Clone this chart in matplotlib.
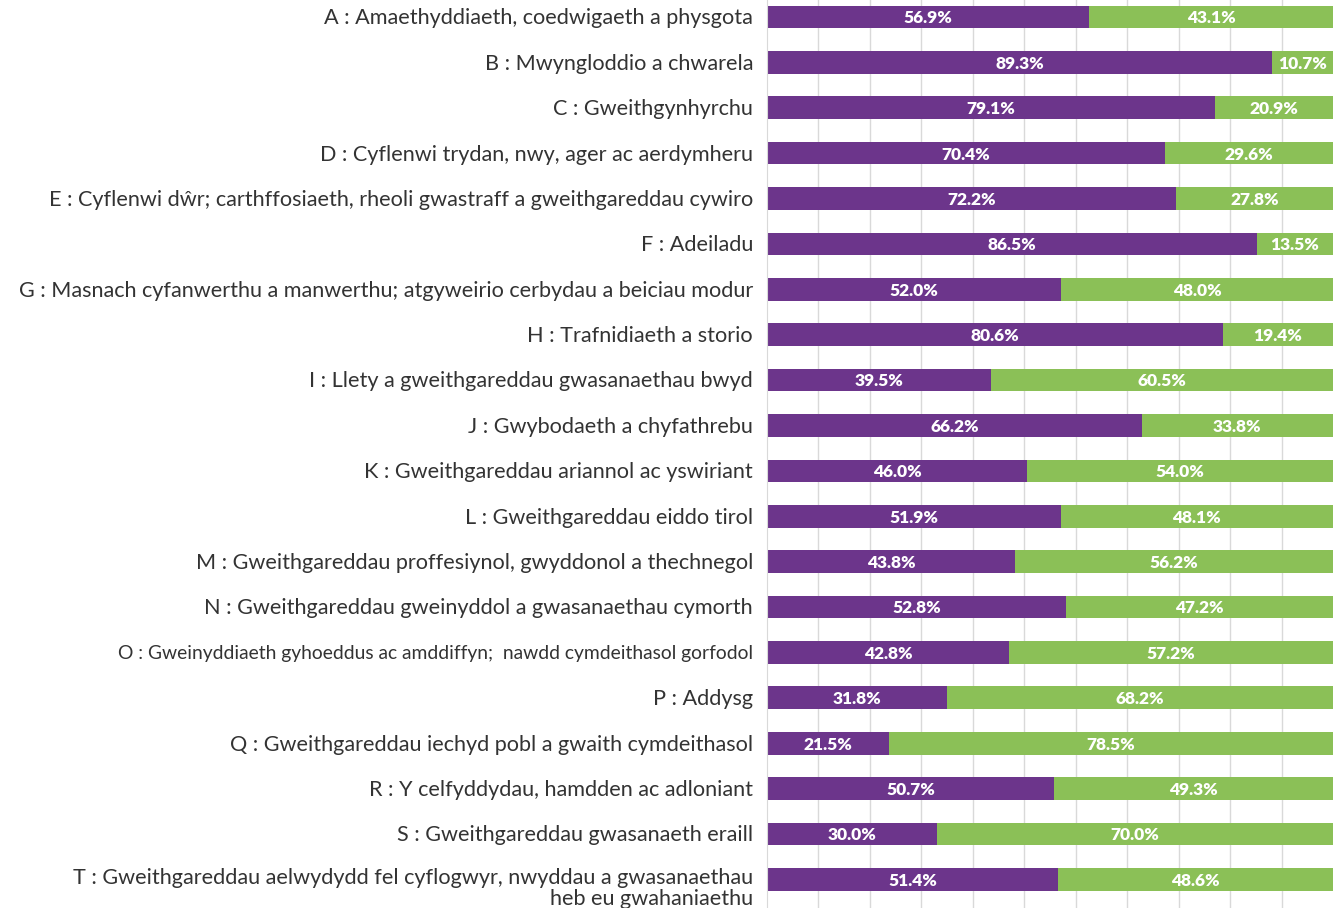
import matplotlib
matplotlib.use("Agg")
import matplotlib.pyplot as plt
import numpy as np

sectors = [
    "A : Amaethyddiaeth, coedwigaeth a physgota",
    "B : Mwyngloddio a chwarela",
    "C : Gweithgynhyrchu",
    "D : Cyflenwi trydan, nwy, ager ac aerdymheru",
    "E : Cyflenwi dŵr; carthffosiaeth, rheoli gwastraff a gweithgareddau cywiro",
    "F : Adeiladu",
    "G : Masnach cyfanwerthu a manwerthu; atgyweirio cerbydau a beiciau modur",
    "H : Trafnidiaeth a storio",
    "I : Llety a gweithgareddau gwasanaethau bwyd",
    "J : Gwybodaeth a chyfathrebu",
    "K : Gweithgareddau ariannol ac yswiriant",
    "L : Gweithgareddau eiddo tirol",
    "M : Gweithgareddau proffesiynol, gwyddonol a thechnegol",
    "N : Gweithgareddau gweinyddol a gwasanaethau cymorth",
    "O : Gweinyddiaeth gyhoeddus ac amddiffyn;  nawdd cymdeithasol gorfodol",
    "P : Addysg",
    "Q : Gweithgareddau iechyd pobl a gwaith cymdeithasol",
    "R : Y celfyddydau, hamdden ac adloniant",
    "S : Gweithgareddau gwasanaeth eraill",
    "T : Gweithgareddau aelwydydd fel cyflogwyr, nwyddau a gwasanaethau\nheb eu gwahaniaethu",
]
purple_pct = [56.9, 89.3, 79.1, 70.4, 72.2, 86.5, 52.0, 80.6, 39.5, 66.2,
              46.0, 51.9, 43.8, 52.8, 42.8, 31.8, 21.5, 50.7, 30.0, 51.4]
green_pct = [43.1, 10.7, 20.9, 29.6, 27.8, 13.5, 48.0, 19.4, 60.5, 33.8,
             54.0, 48.1, 56.2, 47.2, 57.2, 68.2, 78.5, 49.3, 70.0, 48.6]

PURPLE = "#6C358B"
GREEN = "#8BC057"

fig = plt.figure(figsize=(13.35, 9.08), dpi=100)
ax = fig.add_axes([767 / 1335, 0, 566 / 1335, 1])

y = np.arange(len(sectors))
p = np.array(purple_pct) / 100
g = np.array(green_pct) / 100

ax.barh(y, p, height=0.5, color=PURPLE, zorder=2)
ax.barh(y, g, left=p, height=0.5, color=GREEN, zorder=2)

# value labels inside segments
for i in range(len(sectors)):
    ax.text(p[i] / 2, y[i] + 0.03, f"{purple_pct[i]:.1f}%", ha="center", va="center",
            color="white", fontsize=12.5, fontweight="heavy", family="Lato", zorder=3)
    ax.text(p[i] + g[i] / 2, y[i] + 0.03, f"{green_pct[i]:.1f}%", ha="center", va="center",
            color="white", fontsize=12.5, fontweight="heavy", family="Lato", zorder=3)

# category labels
for i, name in enumerate(sectors):
    size = 13.9 if name.startswith("O :") else 15.6
    dy = 0.2 if name.startswith("T :") else 0.03
    ax.annotate(name, xy=(0, y[i] + dy), xycoords=("axes fraction", "data"),
                xytext=(-10, 0), textcoords="offset points", ha="right",
                va="center", fontsize=size, family="Lato", color="#333333",
                linespacing=1.05, annotation_clip=False)

ax.set_xlim(0, 1)
ax.set_ylim(19.63, -0.374)
ax.set_xticks(np.arange(1, 11) / 11)
ax.grid(axis="x", color="#d9d9d9", linewidth=1, zorder=0)
ax.set_yticks([])
ax.tick_params(axis="x", length=0, labelbottom=False)
for s in ["top", "right", "bottom"]:
    ax.spines[s].set_visible(False)
ax.spines["left"].set_color("#d9d9d9")

fig.savefig("out.png", dpi=100)
